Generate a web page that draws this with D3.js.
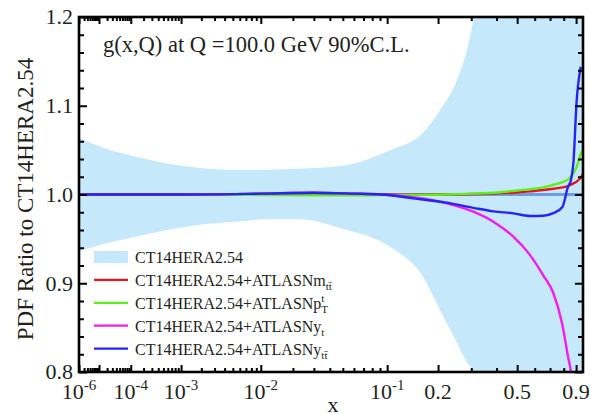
<!DOCTYPE html>
<html>
<head>
<meta charset="utf-8">
<script src="https://cdn.jsdelivr.net/npm/d3@7"></script>
<style>
  body { margin: 0; background: #fff; }
  svg text { font-family: "Liberation Serif", "Times New Roman", serif; fill: #231f20; }
</style>
</head>
<body>
<svg id="chart" width="590" height="414"></svg>
<script>
// x grid for the CT14HERA2.54 90% C.L. band
const bandX = [1e-6, 1.1e-5, 1.2e-4, 5.7e-4, 1.9e-3, 5e-3, 1.2e-2, 2.3e-2, 4.8e-2, 0.104, 0.165, 0.205, 0.253, 0.285, 0.31, 0.36, 0.45, 0.6, 0.96];
const bandUpper = [1.064, 1.054, 1.043, 1.035, 1.030, 1.028, 1.028, 1.029, 1.032, 1.050, 1.070, 1.095, 1.129, 1.163, 1.200, 1.27, 1.40, 1.60, 2.0];
const bandLower = [0.936, 0.943, 0.952, 0.960, 0.966, 0.969, 0.972, 0.972, 0.962, 0.941, 0.907, 0.870, 0.833, 0.811, 0.800, 0.74, 0.60, 0.40, 0.0];

// x grid for the ratio curves
const curveX = [1e-6, 1e-4, 1e-3, 0.01, 0.03, 0.06, 0.092, 0.144, 0.223, 0.307, 0.386, 0.48, 0.571, 0.654, 0.723, 0.79, 0.834, 0.857, 0.877, 0.905, 0.94, 0.96];
const centralRatio = curveX.map(() => 1.0);
const mttRatio  = [1.0, 1.0, 1.0, 1.0005, 1.001, 1.0005, 1.0, 0.9998, 1.0, 1.0005, 1.001, 1.002, 1.0035, 1.005, 1.0065, 1.008, 1.0095, 1.011, 1.0125, 1.0145, 1.019, 1.023];
const ptRatio   = [1.0, 1.0, 1.0, 0.9995, 0.999, 0.999, 0.9993, 0.9995, 1.0, 1.001, 1.002, 1.004, 1.006, 1.008, 1.011, 1.014, 1.017, 1.02, 1.024, 1.031, 1.046, 1.05];
const ytRatio   = [1.0, 1.0, 1.0, 1.001, 1.002, 1.001, 1.0, 0.997, 0.990, 0.9806, 0.9694, 0.9525, 0.932, 0.909, 0.889, 0.853, 0.817, 0.80, 0.77, 0.72, 0.65, 0.6];
const yttRatio  = [1.0, 1.0, 1.0, 1.001, 1.002, 1.001, 1.0, 0.9957, 0.9908, 0.985, 0.981, 0.9788, 0.9758, 0.976, 0.979, 0.986, 1.009, 1.016, 1.035, 1.106, 1.144, null];

const seriesNames = ["mtt", "pt", "yt", "ytt"];
const seriesColors = ["#e8141c", "#5ef01a", "#f21cf0", "#2424f4"];

// tick values / labels
const xMajorTicks = [1e-6, 1e-5, 1e-4, 1e-3, 1e-2, 1e-1, 0.2, 0.5, 0.9];
const xLabelVals = [1e-6, 1e-4, 1e-3, 1e-2, 1e-1, 0.2, 0.5, 0.9];
const xLabelBase = ["10", "10", "10", "10", "10", "0.2", "0.5", "0.9"];
const xLabelExp  = ["-6", "-4", "-3", "-2", "-1", "", "", ""];
const yMajorTicks = [0.8, 0.9, 1.0, 1.1, 1.2];
const yLabels = ["0.8", "0.9", "1.0", "1.1", "1.2"];

(() => {
    const svg = d3.select("#chart");
    const left = 79, right = 583, top = 17, bottom = 372;

    const x = d3.scalePow().exponent(0.2).domain([1e-6, 0.96]).range([left, right]);
    const y = d3.scaleLinear().domain([0.8, 1.2]).range([bottom, top]);

    svg.append("defs").append("clipPath").attr("id", "plotClip")
        .append("rect")
        .attr("x", left).attr("y", top)
        .attr("width", right - left).attr("height", bottom - top);

    const plot = svg.append("g").attr("clip-path", "url(#plotClip)");

    // uncertainty band
    const bandData = bandX.map((v, i) => ({ x: v, lo: bandLower[i], hi: bandUpper[i] }));
    plot.append("path")
        .datum(bandData)
        .attr("fill", "#c5e9fa")
        .attr("d", d3.area()
            .x(d => x(d.x))
            .y0(d => y(d.lo))
            .y1(d => y(d.hi))
            .curve(d3.curveMonotoneX));

    const line = d3.line()
        .defined(d => d[1] != null)
        .x(d => x(d[0]))
        .y(d => y(d[1]))
        .curve(d3.curveMonotoneX);

    // central line of the reference set
    plot.append("path")
        .datum(curveX.map((v, i) => [v, centralRatio[i]]))
        .attr("fill", "none")
        .attr("stroke", "#6a9fe8")
        .attr("stroke-width", 3)
        .attr("d", line);

    const allSeries = [mttRatio, ptRatio, ytRatio, yttRatio];
    allSeries.forEach((vals, k) => {
        plot.append("path")
            .datum(curveX.map((v, i) => [v, vals[i]]))
            .attr("class", "curve-" + seriesNames[k])
            .attr("fill", "none")
            .attr("stroke", seriesColors[k])
            .attr("stroke-width", 2.4)
            .attr("d", line);
    });

    // minor x ticks: 2..9 in every decade
    const xMinor = [];
    for (let e = -6; e <= -1; e++) {
        for (let m = 2; m <= 9; m++) {
            const v = m * Math.pow(10, e);
            if (v < 0.96 && !xMajorTicks.some(t => Math.abs(t - v) < 1e-12)) xMinor.push(v);
        }
    }
    const yMinor = d3.range(0.82, 1.2, 0.02).filter(v => !yMajorTicks.some(t => Math.abs(t - v) < 1e-9));

    const tickStyle = g => {
        g.select(".domain").remove();
        g.selectAll("line").attr("stroke", "#000").attr("stroke-width", 2);
    };

    svg.append("g").attr("transform", `translate(0,${bottom})`)
        .call(d3.axisBottom(x).tickValues(xMajorTicks).tickSize(-7).tickFormat("")).call(tickStyle);
    svg.append("g").attr("transform", `translate(0,${bottom})`)
        .call(d3.axisBottom(x).tickValues(xMinor).tickSize(-4).tickFormat("")).call(tickStyle);
    svg.append("g").attr("transform", `translate(0,${top})`)
        .call(d3.axisTop(x).tickValues(xMajorTicks).tickSize(-7).tickFormat("")).call(tickStyle);
    svg.append("g").attr("transform", `translate(0,${top})`)
        .call(d3.axisTop(x).tickValues(xMinor).tickSize(-4).tickFormat("")).call(tickStyle);

    svg.append("g").attr("transform", `translate(${left},0)`)
        .call(d3.axisLeft(y).tickValues(yMajorTicks).tickSize(-8).tickFormat("")).call(tickStyle);
    svg.append("g").attr("transform", `translate(${left},0)`)
        .call(d3.axisLeft(y).tickValues(yMinor).tickSize(-5).tickFormat("")).call(tickStyle);
    svg.append("g").attr("transform", `translate(${right},0)`)
        .call(d3.axisRight(y).tickValues(yMajorTicks).tickSize(-8).tickFormat("")).call(tickStyle);
    svg.append("g").attr("transform", `translate(${right},0)`)
        .call(d3.axisRight(y).tickValues(yMinor).tickSize(-5).tickFormat("")).call(tickStyle);

    // frame
    svg.append("rect")
        .attr("x", left).attr("y", top)
        .attr("width", right - left).attr("height", bottom - top)
        .attr("fill", "none")
        .attr("stroke", "#000")
        .attr("stroke-width", 2.6);

    // y tick labels
    svg.selectAll(".ylab")
        .data(yMajorTicks)
        .enter()
        .append("text")
        .attr("class", "ylab")
        .attr("x", left - 6)
        .attr("y", d => y(d))
        .attr("dy", "0.33em")
        .attr("text-anchor", "end")
        .style("font-size", "22px")
        .text((d, i) => yLabels[i]);

    // x tick labels with superscripts
    const xl = svg.selectAll(".xlab")
        .data(xLabelVals)
        .enter()
        .append("text")
        .attr("class", "xlab")
        .attr("x", d => x(d))
        .attr("y", 399)
        .attr("text-anchor", "middle")
        .style("font-size", "22px");
    xl.append("tspan").text((d, i) => xLabelBase[i]);
    xl.append("tspan")
        .attr("dy", -9)
        .style("font-size", "15px")
        .text((d, i) => xLabelExp[i]);

    svg.append("text")
        .attr("x", (left + right) / 2 + 2)
        .attr("y", 412)
        .attr("text-anchor", "middle")
        .style("font-size", "22px")
        .text("x");

    svg.append("text")
        .attr("transform", "translate(33,199) rotate(-90)")
        .attr("text-anchor", "middle")
        .style("font-size", "23px")
        .text("PDF Ratio to CT14HERA2.54");

    svg.append("text")
        .attr("x", 103)
        .attr("y", 52)
        .style("font-size", "22.5px")
        .text("g(x,Q) at Q =100.0 GeV 90%C.L.");

    // legend
    const legendRows = [
        { type: "band", base: "CT14HERA2.54", sup: "", sub: "" },
        { type: "line", color: seriesColors[0], base: "CT14HERA2.54+ATLASNm", sup: "", sub: "tt\u0304" },
        { type: "line", color: seriesColors[1], base: "CT14HERA2.54+ATLASNp", sup: "t", sub: "T" },
        { type: "line", color: seriesColors[2], base: "CT14HERA2.54+ATLASNy", sup: "", sub: "t" },
        { type: "line", color: seriesColors[3], base: "CT14HERA2.54+ATLASNy", sup: "", sub: "tt\u0304" }
    ];

    const legend = svg.selectAll(".legend")
        .data(legendRows)
        .enter()
        .append("g")
        .attr("class", "legend")
        .attr("transform", (d, i) => `translate(94,${257 + i * 22.9})`);

    legend.filter(d => d.type === "band").append("rect")
        .attr("x", 0).attr("y", -6)
        .attr("width", 34).attr("height", 12)
        .attr("fill", "#c5e9fa");

    legend.filter(d => d.type === "line").append("line")
        .attr("x1", 0).attr("x2", 34)
        .attr("y1", 0).attr("y2", 0)
        .attr("stroke", d => d.color)
        .attr("stroke-width", 2.2);

    const lt = legend.append("text")
        .attr("x", 41)
        .attr("y", 6)
        .style("font-size", "16px");
    lt.append("tspan").text(d => d.base);
    lt.each(function(d) {
        const t = d3.select(this);
        const baseW = this.getComputedTextLength();
        if (d.sup) {
            t.append("tspan")
                .attr("x", 41 + baseW)
                .attr("y", -1)
                .style("font-size", "11px")
                .text(d.sup);
        }
        if (d.sub) {
            t.append("tspan")
                .attr("x", 41 + baseW)
                .attr("y", 10)
                .style("font-size", "11px")
                .text(d.sub);
        }
    });
})();
</script>
</body>
</html>
